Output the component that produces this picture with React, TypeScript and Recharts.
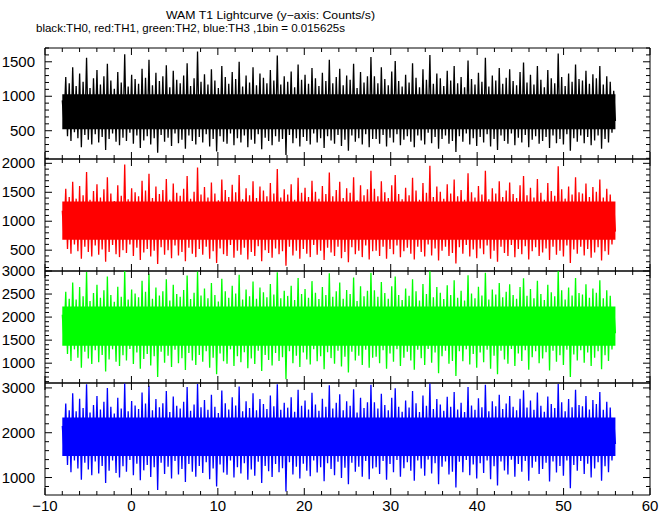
import { LineChart, Line, XAxis, YAxis, ReferenceArea, ReferenceLine } from "recharts";

// time span of the light curve (s), values resampled for display
const tStart = -8;
const tEnd = 56;

const xTicks = [-10, -8, -6, -4, -2, 0, 2, 4, 6, 8, 10, 12, 14, 16, 18, 20, 22, 24, 26, 28, 30, 32, 34, 36, 38, 40, 42, 44, 46, 48, 50, 52, 54, 56, 58, 60];

// counts/s, TH0 (black)
const th0 = [
  940, 610, 1280, 420, 1190, 350, 1420, 480, 1150, 390, 1330, 260, 1210, 440, 1560, 370, 1120, 300, 1260, 450,
  1380, 330, 1170, 410, 1290, 220, 1470, 380, 1230, 460, 1110, 340, 1350, 290, 1200, 400, 1610, 350, 1140, 470,
  1310, 310, 1250, 430, 1180, 250, 1400, 360, 1270, 420, 1530, 300, 1160, 390, 1340, 180, 1220, 440, 1290, 340,
  1450, 400, 1130, 280, 1370, 460, 1240, 320, 1190, 370, 1300, 240, 1480, 430, 1150, 350, 1260, 300, 1650, 410,
  1210, 330, 1320, 450, 1170, 270, 1390, 380, 1230, 200, 1120, 420, 1440, 340, 1280, 310, 1180, 460, 1350, 290,
  1250, 390, 1500, 330, 1140, 430, 1300, 260, 1200, 370, 1420, 310, 1160, 450, 1330, 230, 1270, 400, 1190, 350,
  1380, 290, 1230, 420, 1590, 340, 1170, 380, 1290, 150, 1210, 440, 1360, 320, 1130, 390, 1460, 270, 1240, 410,
  1310, 350, 1180, 300, 1410, 460, 1260, 330, 1150, 390, 1340, 250, 1220, 420, 1530, 360, 1190, 310, 1280, 440,
  1400, 280, 1160, 370, 1300, 210, 1240, 430, 1470, 340, 1120, 390, 1350, 300, 1200, 450, 1290, 260, 1570, 380,
  1290, 380, 1190, 310, 1420, 440, 1250, 270, 1160, 400, 1360, 330, 1510, 450, 1220, 290, 1140, 370, 1310, 420,
  1200, 340, 1480, 260, 1270, 430, 1130, 360, 1390, 300, 1240, 470, 1600, 320, 1180, 410, 1330, 240, 1260, 380,
  1150, 430, 1370, 310, 1230, 350, 1440, 190, 1190, 420, 1280, 340, 1130, 460, 1520, 300, 1250, 390, 1170, 280,
  1340, 410, 1210, 330, 1560, 450, 1140, 270, 1300, 380, 1230, 220, 1410, 430, 1180, 350, 1270, 310, 1390, 460,
  1220, 290, 1160, 400, 1350, 330, 1490, 440, 1200, 260, 1310, 370, 1170, 420, 1440, 310, 1240, 350, 1130, 410,
  1380, 250, 1260, 430, 1190, 320, 1620, 380, 1280, 300, 1150, 450, 1330, 210, 1210, 390, 1460, 340, 1250, 430,
  1230, 320, 1370, 410, 1180, 290, 1320, 360, 1260, 430, 1440, 240, 1170, 380, 1290, 330, 1210, 470, 1080, 640,
];

// TH1 (red)
const th1 = [
  1180, 720, 1560, 520, 1420, 440, 1680, 600, 1390, 480, 1610, 350, 1450, 560, 1850, 470, 1370, 390, 1520, 580,
  1640, 420, 1410, 510, 1550, 300, 1760, 470, 1480, 590, 1350, 430, 1620, 380, 1440, 500, 1980, 450, 1380, 600,
  1570, 400, 1500, 540, 1430, 330, 1700, 460, 1530, 520, 1820, 390, 1400, 490, 1600, 260, 1470, 550, 1540, 420,
  1730, 500, 1370, 360, 1650, 580, 1490, 410, 1440, 470, 1560, 310, 1780, 540, 1390, 440, 1510, 380, 1930, 520,
  1460, 420, 1590, 560, 1410, 350, 1670, 480, 1480, 280, 1360, 530, 1720, 430, 1540, 400, 1420, 590, 1630, 370,
  1500, 490, 1800, 420, 1380, 540, 1570, 340, 1450, 470, 1690, 400, 1400, 570, 1600, 310, 1530, 500, 1430, 450,
  1660, 370, 1480, 530, 1900, 430, 1410, 480, 1550, 230, 1460, 560, 1640, 410, 1370, 490, 1750, 350, 1490, 520,
  1580, 440, 1420, 380, 1700, 590, 1510, 420, 1390, 490, 1610, 330, 1470, 540, 1840, 460, 1430, 400, 1540, 560,
  1680, 360, 1400, 470, 1570, 290, 1490, 550, 1760, 430, 1360, 490, 1620, 380, 1450, 580, 1550, 340, 1870, 480,
  1560, 490, 1430, 400, 1690, 560, 1500, 350, 1400, 520, 1620, 430, 1800, 580, 1470, 380, 1380, 480, 1580, 540,
  1450, 440, 1750, 340, 1530, 560, 1370, 470, 1660, 390, 1490, 600, 1960, 410, 1420, 530, 1600, 320, 1510, 490,
  1390, 560, 1640, 400, 1480, 450, 1720, 270, 1430, 550, 1540, 440, 1370, 590, 1830, 390, 1500, 510, 1410, 360,
  1610, 530, 1460, 430, 1870, 580, 1380, 350, 1570, 490, 1480, 300, 1690, 560, 1420, 450, 1530, 400, 1670, 590,
  1470, 380, 1400, 520, 1620, 430, 1780, 570, 1450, 340, 1580, 480, 1410, 550, 1730, 400, 1490, 460, 1370, 530,
  1660, 330, 1520, 560, 1440, 420, 1950, 490, 1550, 390, 1390, 580, 1600, 280, 1460, 510, 1760, 440, 1500, 560,
  1480, 410, 1650, 520, 1420, 370, 1590, 460, 1510, 550, 1720, 320, 1410, 480, 1560, 420, 1460, 600, 1300, 820,
];

// TH2 (green)
const th2 = [
  2050, 1500, 2550, 1200, 2400, 1050, 2750, 1300, 2380, 1120, 2650, 900, 2450, 1250, 2980, 1100, 2350, 980, 2520, 1280,
  2700, 1020, 2420, 1180, 2580, 820, 2880, 1080, 2480, 1300, 2330, 1030, 2660, 940, 2440, 1170, 3000, 1060, 2380, 1310,
  2600, 980, 2510, 1230, 2430, 880, 2790, 1090, 2550, 1200, 2940, 950, 2400, 1150, 2640, 700, 2470, 1250, 2560, 1010,
  2820, 1160, 2360, 920, 2700, 1290, 2500, 1000, 2440, 1110, 2590, 850, 2900, 1220, 2390, 1060, 2530, 960, 2990, 1180,
  2470, 1030, 2620, 1260, 2410, 900, 2740, 1120, 2480, 760, 2340, 1210, 2830, 1040, 2560, 990, 2420, 1300, 2680, 940,
  2510, 1150, 2920, 1020, 2380, 1240, 2600, 890, 2450, 1100, 2770, 980, 2400, 1270, 2640, 830, 2540, 1180, 2430, 1070,
  2720, 950, 2490, 1220, 2970, 1050, 2410, 1130, 2570, 650, 2460, 1260, 2680, 1000, 2370, 1160, 2850, 920, 2500, 1230,
  2610, 1080, 2420, 970, 2780, 1300, 2530, 1040, 2390, 1150, 2650, 870, 2480, 1240, 2950, 1110, 2440, 990, 2560, 1270,
  2750, 930, 2400, 1140, 2590, 800, 2500, 1250, 2860, 1060, 2350, 1160, 2670, 960, 2450, 1290, 2570, 900, 2960, 1120,
  2580, 1140, 2440, 1000, 2760, 1280, 2520, 880, 2400, 1210, 2670, 1030, 2880, 1300, 2480, 940, 2370, 1120, 2620, 1250,
  2460, 1060, 2820, 860, 2560, 1290, 2360, 1110, 2720, 960, 2500, 1310, 3000, 1010, 2430, 1230, 2650, 780, 2530, 1150,
  2390, 1270, 2690, 990, 2480, 1050, 2800, 720, 2420, 1260, 2570, 1040, 2360, 1300, 2910, 970, 2510, 1200, 2410, 900,
  2660, 1230, 2470, 1020, 2960, 1290, 2380, 880, 2600, 1160, 2490, 760, 2740, 1270, 2430, 1080, 2550, 990, 2710, 1310,
  2480, 940, 2400, 1210, 2650, 1050, 2840, 1280, 2460, 860, 2610, 1130, 2410, 1260, 2790, 1000, 2500, 1100, 2370, 1240,
  2700, 840, 2540, 1270, 2450, 1030, 3000, 1170, 2580, 960, 2380, 1290, 2640, 700, 2470, 1190, 2850, 1060, 2520, 1280,
  2490, 1010, 2710, 1230, 2420, 940, 2620, 1120, 2530, 1260, 2800, 870, 2410, 1170, 2580, 1050, 2460, 1300, 2200, 1650,
];

// TH3 (blue)
const th3 = [
  2150, 1600, 2650, 1280, 2500, 1120, 2880, 1380, 2480, 1200, 2760, 950, 2550, 1330, 3080, 1180, 2450, 1050, 2620, 1360,
  2820, 1090, 2520, 1260, 2690, 880, 3000, 1150, 2580, 1380, 2430, 1100, 2780, 1000, 2540, 1250, 3100, 1130, 2480, 1390,
  2710, 1050, 2610, 1310, 2530, 940, 2900, 1160, 2650, 1280, 3050, 1010, 2500, 1230, 2750, 720, 2570, 1330, 2660, 1080,
  2930, 1240, 2460, 980, 2810, 1370, 2600, 1070, 2540, 1190, 2690, 900, 3020, 1300, 2490, 1130, 2630, 1020, 3090, 1260,
  2570, 1100, 2730, 1340, 2510, 960, 2850, 1200, 2580, 800, 2440, 1290, 2940, 1110, 2660, 1060, 2520, 1380, 2790, 1000,
  2610, 1230, 3030, 1090, 2480, 1320, 2700, 950, 2550, 1180, 2880, 1040, 2500, 1350, 2750, 880, 2640, 1260, 2530, 1140,
  2830, 1010, 2590, 1300, 3080, 1120, 2510, 1210, 2670, 690, 2560, 1340, 2790, 1070, 2470, 1240, 2960, 980, 2600, 1310,
  2720, 1150, 2520, 1030, 2890, 1380, 2630, 1110, 2490, 1230, 2760, 920, 2580, 1320, 3060, 1190, 2540, 1050, 2670, 1350,
  2860, 990, 2500, 1220, 2700, 850, 2600, 1330, 2970, 1130, 2450, 1240, 2780, 1020, 2550, 1370, 2680, 960, 3070, 1200,
  2680, 1230, 2540, 1080, 2870, 1370, 2620, 950, 2500, 1300, 2780, 1120, 2990, 1390, 2580, 1020, 2470, 1210, 2720, 1340,
  2560, 1150, 2930, 930, 2660, 1380, 2460, 1200, 2830, 1040, 2600, 1400, 3100, 1090, 2530, 1320, 2750, 850, 2630, 1240,
  2490, 1360, 2800, 1070, 2580, 1130, 2910, 780, 2520, 1350, 2670, 1120, 2460, 1390, 3020, 1050, 2610, 1290, 2510, 980,
  2770, 1320, 2570, 1100, 3070, 1380, 2480, 960, 2700, 1250, 2590, 820, 2850, 1360, 2530, 1160, 2650, 1070, 2820, 1400,
  2580, 1020, 2500, 1300, 2760, 1130, 2950, 1370, 2560, 930, 2720, 1220, 2510, 1350, 2900, 1080, 2600, 1190, 2470, 1330,
  2810, 910, 2640, 1360, 2550, 1110, 3090, 1260, 2680, 1040, 2480, 1380, 2750, 760, 2570, 1280, 2960, 1150, 2620, 1370,
  2590, 1080, 2820, 1310, 2520, 1000, 2730, 1200, 2640, 1340, 2910, 930, 2510, 1250, 2690, 1120, 2560, 1380, 2300, 1750,
];

// dense core of each curve (counts/s)
const core0 = [520, 1030];
const core1 = [680, 1340];
const core2 = [1380, 2230];
const core3 = [1480, 2340];

const range = (a: number, b: number, s: number) => {
  const out: number[] = [];
  for (let v = a; v <= b + 1e-9; v += s) out.push(v);
  return out;
};

const xDomain = [-10, 60];
const plotLeft = 45;
const plotRight = 650;

const panels = [
  { values: th0, color: "#000000", core: core0, domain: [90, 1700], yTicks: range(100, 1700, 100), major: 500, top: 48, bottom: 159 },
  { values: th1, color: "#ff0000", core: core1, domain: [140, 2075], yTicks: range(200, 2000, 100), major: 500, top: 159, bottom: 271 },
  { values: th2, color: "#00ff00", core: core2, domain: [570, 3000], yTicks: range(600, 3000, 100), major: 500, top: 271, bottom: 383 },
  { values: th3, color: "#0000ff", core: core3, domain: [610, 3110], yTicks: range(800, 3000, 200), major: 1000, top: 383, bottom: 495 },
];

const font = "'Liberation Sans', Arial, Helvetica, sans-serif";
const fmt = (v: number) => (v < 0 ? "\u2212" + Math.abs(v) : String(v));

const xLabel = (show: boolean) => (props: any) => {
  const { x, y, payload } = props;
  if (!show || payload.value % 10 !== 0) return <g />;
  return (
    <text x={x} y={y + 16} textAnchor="middle" fontSize={15} fontFamily={font} fill="#000">
      {fmt(payload.value)}
    </text>
  );
};

const yLabel = (major: number) => (props: any) => {
  const { x, y, payload } = props;
  if (payload.value % major !== 0) return <g />;
  return (
    <text x={x - 10} y={y + 5} textAnchor="end" fontSize={15} fontFamily={font} fill="#000">
      {payload.value}
    </text>
  );
};

function Panel({ p, last }: { p: (typeof panels)[number]; last: boolean }) {
  const step = (tEnd - tStart) / (p.values.length - 1);
  const rows = p.values.map((v, i) => ({ t: tStart + i * step, v }));
  const padTop = 10;
  const padBottom = last ? 24 : 10;
  const h = p.bottom - p.top + padTop + padBottom;

  // inward tick marks (7px major, 4px minor) in data units
  const ux = (xDomain[1] - xDomain[0]) / (plotRight - plotLeft);
  const uy = (p.domain[1] - p.domain[0]) / (p.bottom - p.top);
  const [y0, y1] = p.domain;
  const [x0, x1] = xDomain;
  const segs: { x: number; y: number }[][] = [];
  xTicks.forEach((v) => {
    const len = (v % 10 === 0 ? 7 : 4) * uy;
    segs.push([{ x: v, y: y0 }, { x: v, y: y0 + len }]);
    segs.push([{ x: v, y: y1 }, { x: v, y: y1 - len }]);
  });
  p.yTicks.forEach((v) => {
    const len = (v % p.major === 0 ? 7 : 4) * ux;
    segs.push([{ x: x0, y: v }, { x: x0 + len, y: v }]);
    segs.push([{ x: x1, y: v }, { x: x1 - len, y: v }]);
  });

  return (
    <div style={{ position: "absolute", left: 0, top: p.top - padTop, width: 672, height: h }}>
      <LineChart width={672} height={h} data={rows} margin={{ top: padTop, right: 672 - plotRight, bottom: padBottom - 1, left: 0 }}>
        <XAxis
          dataKey="t"
          type="number"
          domain={xDomain}
          ticks={xTicks}
          interval={0}
          height={1}
          tickSize={0}
          tickMargin={0}
          tickLine={false}
          axisLine={false}
          tick={xLabel(last)}
        />
        <YAxis
          type="number"
          domain={p.domain}
          ticks={p.yTicks}
          interval={0}
          width={plotLeft}
          tickSize={0}
          tickMargin={0}
          tickLine={false}
          axisLine={false}
          tick={yLabel(p.major)}
        />
        <ReferenceArea
          x1={rows[0].t}
          x2={rows[rows.length - 1].t}
          y1={p.core[0]}
          y2={p.core[1]}
          fill={p.color}
          fillOpacity={1}
          stroke="none"
        />
        <Line
          type="linear"
          dataKey="v"
          stroke={p.color}
          strokeWidth={1.3}
          dot={false}
          isAnimationActive={false}
        />
        <ReferenceArea x1={x0} x2={x1} y1={y0} y2={y1} fill="none" stroke="#000" strokeWidth={1} />
        {segs.map((s, i) => (
          <ReferenceLine key={i} segment={s} stroke="#000" strokeWidth={1} ifOverflow="visible" />
        ))}
      </LineChart>
    </div>
  );
}

export default function App() {
  return (
    <div style={{ position: "absolute", left: 0, top: 0, width: 672, height: 515, background: "#fff", overflow: "hidden" }}>
      <svg width={672} height={46} style={{ position: "absolute", left: 0, top: 0 }}>
        <text x={270.5} y={19} textAnchor="middle" fontSize={11} fontFamily={font} textLength={209} lengthAdjust="spacingAndGlyphs">
          WAM T1 Lightcurve (y{"\u2212"}axis: Counts/s)
        </text>
        <text x={36} y={31.5} fontSize={11} fontFamily={font} textLength={309} lengthAdjust="spacingAndGlyphs">
          black:TH0, red:TH1, green:TH2, blue:TH3 ,1bin = 0.015625s
        </text>
      </svg>
      {panels.map((p, i) => (
        <Panel key={i} p={p} last={i === panels.length - 1} />
      ))}
    </div>
  );
}
